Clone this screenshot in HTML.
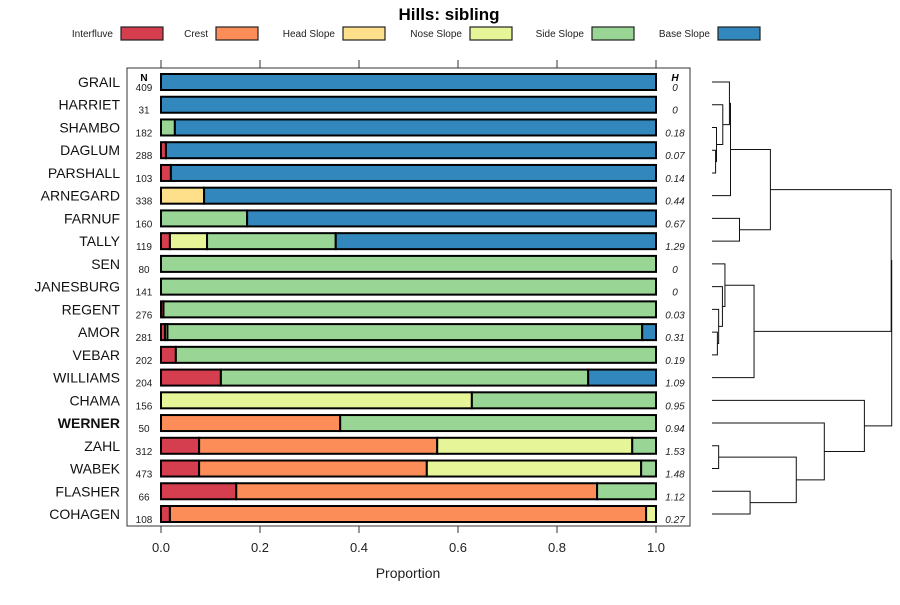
<!DOCTYPE html>
<html><head><meta charset="utf-8"><style>
body{margin:0;background:#fff}
svg{font-family:"Liberation Sans",sans-serif}
</style></head><body>
<svg id="c" width="900" height="600" viewBox="0 0 900 600"></svg>
<script>
const categories=["Interfluve","Crest","Head Slope","Nose Slope","Side Slope","Base Slope"];
const colors=["#d53e4f","#fc8d59","#fee08b","#e6f598","#99d594","#3288bd"];
const sites=["GRAIL","HARRIET","SHAMBO","DAGLUM","PARSHALL","ARNEGARD","FARNUF","TALLY","SEN","JANESBURG","REGENT","AMOR","VEBAR","WILLIAMS","CHAMA","WERNER","ZAHL","WABEK","FLASHER","COHAGEN"];
const nVals=[409,31,182,288,103,338,160,119,80,141,276,281,202,204,156,50,312,473,66,108];
const hVals=["0","0","0.18","0.07","0.14","0.44","0.67","1.29","0","0","0.03","0.31","0.19","1.09","0.95","0.94","1.53","1.48","1.12","0.27"];
const interfluve=[0,0,0,0.01,0.02,0,0,0.018,0,0,0.005,0.008,0.03,0.121,0,0,0.077,0.077,0.152,0.018];
const crest=[0,0,0,0,0,0,0,0,0,0,0,0,0,0,0,0.362,0.481,0.46,0.729,0.962];
const headSlope=[0,0,0,0,0,0.087,0,0,0,0,0,0,0,0,0,0,0,0,0,0];
const noseSlope=[0,0,0,0,0,0,0,0.075,0,0,0,0.005,0,0,0.628,0,0.394,0.433,0,0.02];
const sideSlope=[0,0,0.028,0,0,0,0.174,0.26,1,1,0.995,0.959,0.97,0.742,0.372,0.638,0.048,0.03,0.119,0];
const baseSlope=[1,1,0.972,0.99,0.98,0.913,0.826,0.647,0,0,0,0.028,0,0.137,0,0,0,0,0,0];
const series=[interfluve,crest,headSlope,noseSlope,sideSlope,baseSlope];
const xTicks=["0.0","0.2","0.4","0.6","0.8","1.0"];
// dendrogram merges: [childA, childB, height]; leaves are 0..19, clusters are 20+
const merges=[[3,4,0.02],[2,20,0.025],[1,21,0.06],[0,22,0.097],[23,5,0.103],[6,7,0.153],[24,25,0.325],
[11,12,0.03],[10,27,0.037],[9,28,0.058],[8,29,0.072],[30,13,0.234],
[16,17,0.037],[18,19,0.212],[32,33,0.469],[15,34,0.625],[14,35,0.848],[26,31,0.997],[37,36,1.0]];

const svg=document.getElementById('c');const NS="http://www.w3.org/2000/svg";
function mk(t,a,p){const e=document.createElementNS(NS,t);for(const k in a)e.setAttribute(k,a[k]);(p||svg).appendChild(e);return e;}
const X0=161,X1=656;const xs=v=>X0+v*(X1-X0);
const ys=i=>82+i*(514-82)/19;
const dx=h=>712+h*(891.7-712);

let t=mk('text',{x:449,y:20,'text-anchor':'middle','font-size':17,'font-weight':'bold'});t.textContent="Hills: sibling";


const legTextEnd=[113,208,335,462,584,710];
categories.forEach((c,i)=>{
  const g=mk('g',{});
  
  
  const tx=mk('text',{x:legTextEnd[i],y:37,'text-anchor':'end','font-size':10,fill:'#222'},g);tx.textContent=c;
  mk('rect',{x:legTextEnd[i]+8,y:27,width:42,height:13,fill:colors[i],stroke:'#222','stroke-width':1.2},g);
});
const frame=mk('rect',{x:127,y:68,width:563,height:458,fill:'none',stroke:'#333','stroke-width':1});


xTicks.forEach((lab,i)=>{
  const v=i/(xTicks.length-1);
  mk('line',{x1:xs(v),x2:xs(v),y1:60,y2:68,stroke:'#333'});
  mk('line',{x1:xs(v),x2:xs(v),y1:526,y2:533,stroke:'#333'});
  const tt=mk('text',{x:xs(v),y:552,'text-anchor':'middle','font-size':13,fill:'#222'});tt.textContent=lab;
  
  
});
t=mk('text',{x:408,y:578,'text-anchor':'middle','font-size':14,fill:'#222'});t.textContent="Proportion";


t=mk('text',{x:144,y:81,'text-anchor':'middle','font-size':10,'font-weight':'bold'});t.textContent="N";
t=mk('text',{x:675,y:81,'text-anchor':'middle','font-size':10,'font-weight':'bold','font-style':'italic'});t.textContent="H";
sites.forEach((s,i)=>{
  const y=ys(i);
  const l=mk('text',{x:120,y:y+5,'text-anchor':'end','font-size':14,'font-weight':s==="WERNER"?'bold':'normal',fill:'#111'});l.textContent=s;
  
  
  const n=mk('text',{x:144,y:y+9,'text-anchor':'middle','font-size':10,fill:'#222'});n.textContent=nVals[i];
  
  
  const h=mk('text',{x:675,y:y+9,'text-anchor':'middle','font-size':10,'font-style':'italic',fill:'#222'});h.textContent=hVals[i];
  
  
  let acc=0;
  series.forEach((ser,k)=>{
    const v=ser[i];if(v<=0)return;
    const r=mk('rect',{x:xs(acc),y:y-8,width:xs(acc+v)-xs(acc),height:16,fill:colors[k],stroke:'#000','stroke-width':2});
    
    
    acc+=v;
  });
});
// dendrogram
const pos=[];sites.forEach((s,i)=>pos.push({y:ys(i),x:712}));
merges.forEach(m=>{
  const a=pos[m[0]],b=pos[m[1]],x=dx(m[2]);
  const p=mk('path',{d:`M${a.x},${a.y}H${x}V${b.y}H${b.x}`,fill:'none',stroke:'#111','stroke-width':1});
  
  
  pos.push({x:x,y:(a.y+b.y)/2});
});
</script>
</body></html>
